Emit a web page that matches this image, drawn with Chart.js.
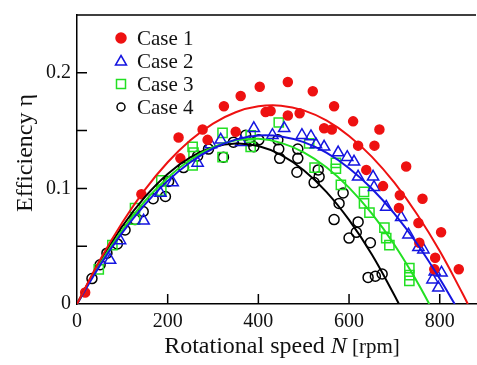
<!DOCTYPE html>
<html>
<head>
<meta charset="utf-8">
<script src="https://cdn.jsdelivr.net/npm/chart.js@4.4.0/dist/chart.umd.min.js"></script>
<style>
  body { margin: 0; background: #fff; }
</style>
</head>
<body>
<canvas id="chart" width="477" height="365"></canvas>
<script>
// measured points
const case1N   = [18, 142, 224, 228, 277, 288, 324, 350, 361, 403, 416, 427, 465, 465, 491, 520, 545, 562, 567, 609, 620, 638, 656, 667, 675, 710, 712, 726, 753, 755, 762, 788, 790, 803, 842];
const case1Eta = [0.010, 0.095, 0.144, 0.126, 0.151, 0.142, 0.171, 0.149, 0.180, 0.188, 0.166, 0.167, 0.192, 0.163, 0.165, 0.184, 0.152, 0.151, 0.171, 0.158, 0.137, 0.116, 0.137, 0.151, 0.102, 0.083, 0.094, 0.119, 0.070, 0.053, 0.091, 0.030, 0.040, 0.062, 0.030];

const case2N   = [73, 95, 147, 184, 211, 266, 295, 317, 362, 390, 431, 457, 496, 516, 527, 545, 576, 596, 611, 620, 653, 655, 682, 715, 731, 753, 764, 784, 789, 797, 804];
const case2Eta = [0.038, 0.055, 0.072, 0.096, 0.105, 0.122, 0.138, 0.142, 0.140, 0.152, 0.146, 0.152, 0.146, 0.145, 0.138, 0.136, 0.131, 0.127, 0.123, 0.110, 0.110, 0.101, 0.084, 0.075, 0.060, 0.049, 0.047, 0.021, 0.028, 0.014, 0.027];

const case3N   = [48, 78, 128, 128, 186, 186, 255, 255, 257, 321, 321, 383, 383, 445, 512, 524, 571, 571, 582, 633, 633, 645, 678, 682, 689, 733, 733, 733];
const case3Eta = [0.030, 0.051, 0.083, 0.073, 0.107, 0.098, 0.136, 0.120, 0.131, 0.148, 0.127, 0.146, 0.136, 0.157, 0.139, 0.118, 0.122, 0.117, 0.103, 0.097, 0.087, 0.079, 0.066, 0.057, 0.051, 0.031, 0.025, 0.020];

const case4N   = [33, 51, 66, 89, 106, 128, 146, 168, 195, 202, 235, 266, 290, 323, 345, 372, 381, 390, 401, 443, 445, 447, 487, 487, 485, 523, 532, 534, 567, 578, 587, 600, 616, 620, 642, 647, 658, 673];
const case4Eta = [0.022, 0.034, 0.044, 0.052, 0.064, 0.073, 0.080, 0.091, 0.093, 0.106, 0.118, 0.128, 0.134, 0.127, 0.140, 0.146, 0.141, 0.136, 0.142, 0.142, 0.134, 0.126, 0.134, 0.126, 0.114, 0.105, 0.116, 0.110, 0.073, 0.087, 0.096, 0.057, 0.062, 0.071, 0.023, 0.053, 0.024, 0.026];

// fitted curves
const fit1N   = [0, 50, 100, 150, 200, 250, 300, 350, 400, 450, 500, 550, 600, 650, 700, 750, 800, 850, 862];
const fit1Eta = [0, 0.0376, 0.0705, 0.0989, 0.1226, 0.1416, 0.1561, 0.1659, 0.1710, 0.1716, 0.1675, 0.1588, 0.1454, 0.1275, 0.1049, 0.0776, 0.0458, 0.0093, 0];
const fit2N   = [0, 50, 100, 150, 200, 250, 300, 350, 400, 450, 500, 550, 600, 650, 700, 750, 800, 833];
const fit2Eta = [0, 0.0330, 0.0617, 0.0862, 0.1065, 0.1226, 0.1345, 0.1422, 0.1457, 0.1449, 0.1400, 0.1309, 0.1175, 0.0999, 0.0781, 0.0521, 0.0219, 0];
const fit3N   = [0, 50, 100, 150, 200, 250, 300, 350, 400, 450, 500, 550, 600, 650, 700, 750, 777];
const fit3Eta = [0, 0.0344, 0.0641, 0.0891, 0.1093, 0.1248, 0.1356, 0.1416, 0.1429, 0.1394, 0.1312, 0.1183, 0.1007, 0.0783, 0.0512, 0.0193, 0];
const fit4N   = [0, 50, 100, 150, 200, 250, 300, 350, 400, 450, 500, 550, 600, 650, 700, 710];
const fit4Eta = [0, 0.0364, 0.0673, 0.0926, 0.1125, 0.1268, 0.1356, 0.1389, 0.1367, 0.1290, 0.1157, 0.0970, 0.0727, 0.0430, 0.0076, 0];

const caseLabels = ['Case 1', 'Case 2', 'Case 3', 'Case 4'];
const xLabels = [0, 200, 400, 600, 800];
const yLabels = [0, 0.1, 0.2];
const xTicks = [200, 400, 600, 800];
const yTicks = [0.05, 0.1, 0.15, 0.2];

const red = '#ee1111';
const blue = '#1515e0';
const green = '#22e022';
const black = '#000000';
const serif = "'Liberation Serif', 'DejaVu Serif', serif";

function pts(xs, ys){
    return xs.map((v, i) => ({x: v, y: ys[i]}));
}

function marks(label, xs, ys, style, color, fill, r){
    return {
        type: 'scatter', label: label, data: pts(xs, ys),
        pointStyle: style, pointRadius: r, borderWidth: 1.5,
        borderColor: color, backgroundColor: fill, order: 2
    };
}

function fit(xs, ys, color){
    return {
        type: 'line', data: pts(xs, ys), showLine: true, fill: false,
        borderColor: color, borderWidth: 2, pointRadius: 0,
        tension: 0.4, order: 1
    };
}

const legendItems = [
    {style: 'circle', color: red, fill: red},
    {style: 'triangle', color: blue, fill: 'transparent'},
    {style: 'rect', color: green, fill: 'transparent'},
    {style: 'circle', color: black, fill: 'transparent'}
];

const decor = {
    id: 'decor',
    afterDraw(chart){
        const ctx = chart.ctx;
        const a = chart.chartArea;
        const xs = chart.scales.x, ys = chart.scales.y;
        ctx.save();
        ctx.strokeStyle = '#000';
        ctx.lineWidth = 1.5;
        ctx.beginPath();
        ctx.moveTo(a.left, a.top);
        ctx.lineTo(a.right, a.top);
        xTicks.forEach(v => {
            const p = xs.getPixelForValue(v);
            ctx.moveTo(p, a.bottom);
            ctx.lineTo(p, a.bottom - 10);
        });
        yTicks.forEach(v => {
            const p = ys.getPixelForValue(v);
            ctx.moveTo(a.left, p);
            ctx.lineTo(a.left + 10, p);
        });
        ctx.stroke();

        // legend
        ctx.lineWidth = 1.5;
        legendItems.forEach((it, i) => {
            const cx = a.left + 44, cy = a.top + 23 + i * 23;
            ctx.strokeStyle = it.color;
            ctx.fillStyle = it.fill;
            ctx.beginPath();
            if (it.style === 'circle') {
                ctx.arc(cx, cy, it.fill === 'transparent' ? 4 : 5, 0, Math.PI * 2);
            } else if (it.style === 'triangle') {
                ctx.moveTo(cx, cy - 5.5);
                ctx.lineTo(cx + 5.5, cy + 4);
                ctx.lineTo(cx - 5.5, cy + 4);
                ctx.closePath();
            } else {
                ctx.rect(cx - 4.5, cy - 4.5, 9, 9);
            }
            if (it.fill !== 'transparent') ctx.fill();
            ctx.stroke();
            ctx.fillStyle = '#111';
            ctx.font = '21px ' + serif;
            ctx.textBaseline = 'middle';
            ctx.textAlign = 'left';
            ctx.fillText(caseLabels[i], a.left + 60, cy + 1);
        });

        // axis titles
        ctx.fillStyle = '#111';
        ctx.save();
        ctx.translate(26, 153);
        ctx.rotate(-Math.PI / 2);
        ctx.font = '24px ' + serif;
        ctx.textAlign = 'center';
        ctx.textBaseline = 'middle';
        ctx.fillText('Efficiency η', 0, 0);
        ctx.restore();

        const parts = [
            {t: 'Rotational speed ', f: '24px ' + serif},
            {t: 'N', f: 'italic 24px ' + serif},
            {t: ' [rpm]', f: '21px ' + serif}
        ];
        let total = 0;
        parts.forEach(p => { ctx.font = p.f; p.w = ctx.measureText(p.t).width; total += p.w; });
        let x = 282 - total / 2;
        ctx.textAlign = 'left';
        ctx.textBaseline = 'alphabetic';
        parts.forEach(p => { ctx.font = p.f; ctx.fillText(p.t, x, 353); x += p.w; });
        ctx.restore();
    }
};

const ctx = document.getElementById('chart').getContext('2d');
const chart = new Chart(ctx, {
    type: 'scatter',
    data: {
        datasets: [
            marks(caseLabels[0], case1N, case1Eta, 'circle', red, red, 4.5),
            marks(caseLabels[1], case2N, case2Eta, 'triangle', blue, 'transparent', 6.5),
            marks(caseLabels[2], case3N, case3Eta, 'rect', green, 'transparent', 6.5),
            marks(caseLabels[3], case4N, case4Eta, 'circle', black, 'transparent', 5),
            fit(fit1N, fit1Eta, red),
            fit(fit2N, fit2Eta, blue),
            fit(fit3N, fit3Eta, green),
            fit(fit4N, fit4Eta, black)
        ]
    },
    options: {
        responsive: false,
        animation: false,
        layout: { autoPadding: false, padding: { top: 15, right: 1, left: 0, bottom: 0 } },
        plugins: { legend: { display: false }, tooltip: { enabled: false } },
        scales: {
            x: {
                type: 'linear', min: 0, max: 880,
                afterBuildTicks(s){ s.ticks = xLabels.map(v => ({value: v})); },
                afterFit(s){ s.height = 61; s.paddingLeft = 0; s.paddingRight = 0; },
                grid: { display: false, drawTicks: false },
                border: { display: true, color: '#000', width: 1.5 },
                ticks: {
                    padding: 6, color: '#111', autoSkip: false, maxRotation: 0,
                    font: { family: serif, size: 20 }
                }
            },
            y: {
                min: 0, max: 0.25,
                afterBuildTicks(s){ s.ticks = yLabels.map(v => ({value: v})); },
                afterFit(s){ s.width = 77; s.paddingTop = 0; s.paddingBottom = 0; },
                grid: { display: false, drawTicks: false },
                border: { display: true, color: '#000', width: 1.5 },
                ticks: {
                    padding: 6, color: '#111', autoSkip: false,
                    font: { family: serif, size: 20 },
                    callback: v => String(v)
                }
            }
        }
    },
    plugins: [decor]
});
</script>
</body>
</html>
